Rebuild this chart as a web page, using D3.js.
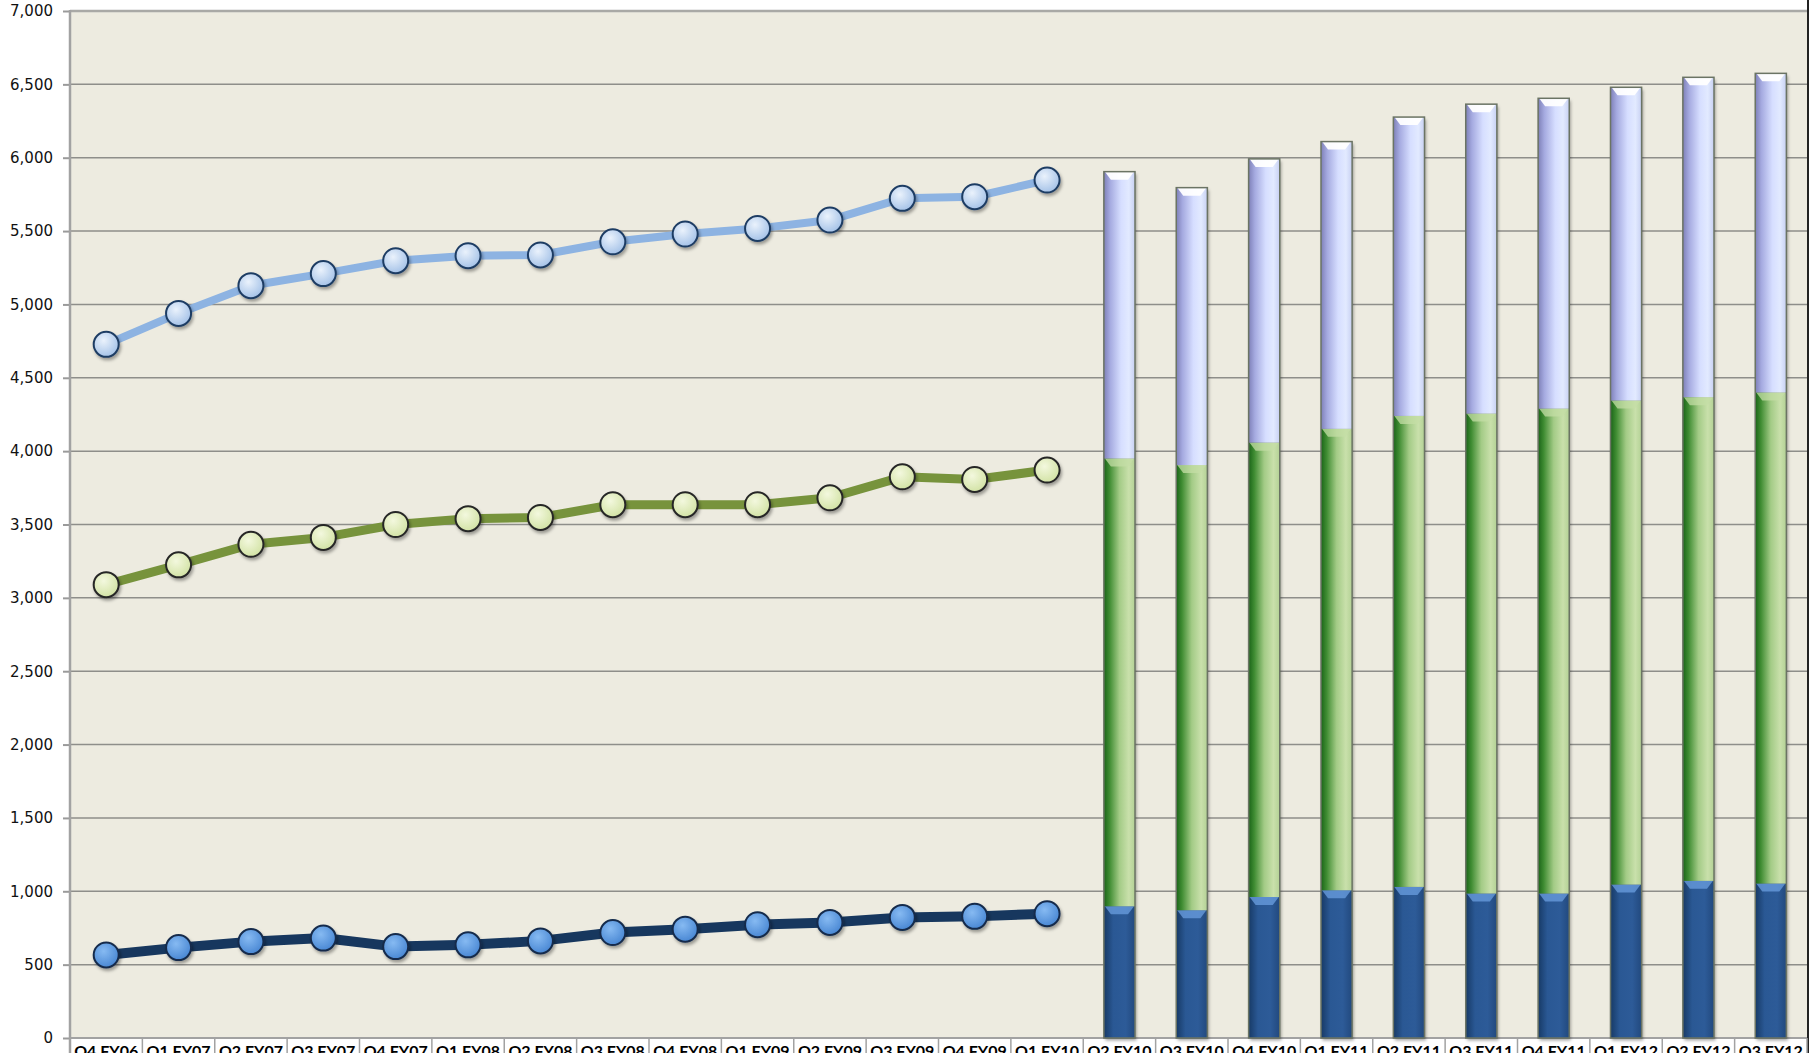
<!DOCTYPE html>
<html>
<head>
<meta charset="utf-8">
<script src="https://cdn.jsdelivr.net/npm/d3@7"></script>
<style>
  body { margin: 0; background: #fff; }
  svg { display: block; }
</style>
</head>
<body>
<svg id="chart"></svg>
<script>
// categories
const categories = [
  "Q4 FY06", "Q1 FY07", "Q2 FY07", "Q3 FY07", "Q4 FY07", "Q1 FY08", "Q2 FY08",
  "Q3 FY08", "Q4 FY08", "Q1 FY09", "Q2 FY09", "Q3 FY09", "Q4 FY09", "Q1 FY10",
  "Q2 FY10", "Q3 FY10", "Q4 FY10", "Q1 FY11", "Q2 FY11", "Q3 FY11", "Q4 FY11",
  "Q1 FY12", "Q2 FY12", "Q3 FY12"
];
const lineCats = categories.slice(0, 14);
const barCats = categories.slice(14);

// line series (Q4 FY06 .. Q1 FY10)
const lineTop = [4728, 4939, 5128, 5210, 5298, 5332, 5337, 5427, 5480, 5518, 5575, 5723, 5734, 5848];
const lineMid = [3090, 3225, 3365, 3412, 3500, 3540, 3548, 3635, 3635, 3635, 3682, 3825, 3807, 3871];
const lineBase = [566, 616, 657, 681, 623, 635, 662, 719, 742, 772, 788, 822, 829, 847];

// stacked bar segments (Q2 FY10 .. Q3 FY12)
const barBase = [898, 871, 961, 1007, 1030, 985, 985, 1046, 1071, 1053];
const barMid = [3052, 3034, 3097, 3145, 3210, 3271, 3305, 3299, 3297, 3347];
const barTop = [1955, 1891, 1934, 1958, 2037, 2109, 2115, 2135, 2180, 2175];

const yTicks = d3.range(0, 7001, 500);

// layout
const W = 1819, H = 1053;
const pL = 70, pR = 1807, pT = 11, pB = 1038;

const svg = d3.select("#chart").attr("width", W).attr("height", H);
const defs = svg.append("defs");

const x = d3.scaleBand().domain(categories).range([pL, pR]);
const y = d3.scaleLinear().domain([0, 7000]).range([pB, pT]);

// gradients
function hGrad(id, stops) {
  const g = defs.append("linearGradient").attr("id", id)
    .attr("x1", "0%").attr("x2", "100%").attr("y1", "0%").attr("y2", "0%");
  stops.forEach(([o, c]) => g.append("stop").attr("offset", o).attr("stop-color", c));
}
hGrad("gBlue", [["0%", "#173a66"], ["30%", "#2a5894"], ["70%", "#2d5b98"], ["100%", "#22497e"]]);
hGrad("gGreen", [["0%", "#1a6418"], ["18%", "#3f8c32"], ["50%", "#a3cb86"], ["80%", "#c9e0ab"], ["100%", "#b3d195"]]);
hGrad("gLav", [["0%", "#7e80b8"], ["20%", "#a5aae0"], ["55%", "#d6deff"], ["80%", "#e2eaff"], ["100%", "#c7d0f2"]]);

function rGrad(id, c0, c1) {
  const g = defs.append("radialGradient").attr("id", id)
    .attr("cx", "40%").attr("cy", "35%").attr("r", "65%");
  g.append("stop").attr("offset", "0%").attr("stop-color", c0);
  g.append("stop").attr("offset", "100%").attr("stop-color", c1);
}
rGrad("mTop", "#eaf2fc", "#a6c3e8");
rGrad("mMid", "#f3f8de", "#d3e3a6");
rGrad("mBase", "#86baf2", "#4a88d4");

const shadow = defs.append("filter").attr("id", "shadow")
  .attr("x", "-30%").attr("y", "-30%").attr("width", "160%").attr("height", "160%");
shadow.append("feDropShadow").attr("dx", 1.5).attr("dy", 2.5).attr("stdDeviation", 1.8)
  .attr("flood-color", "#000").attr("flood-opacity", 0.35);

// plot background
svg.append("rect")
  .attr("x", pL).attr("y", pT)
  .attr("width", pR - pL).attr("height", pB - pT)
  .attr("fill", "#edebe0");

// gridlines
svg.append("g").selectAll("line")
  .data(yTicks.filter(d => d > 0 && d < 7000))
  .join("line")
  .attr("x1", pL).attr("x2", pR)
  .attr("y1", d => y(d)).attr("y2", d => y(d))
  .attr("stroke", "#8e8e8a").attr("stroke-width", 1.5);

// top border of plot
svg.append("line")
  .attr("x1", pL).attr("x2", pR).attr("y1", y(7000)).attr("y2", y(7000))
  .attr("stroke", "#a9a9a6").attr("stroke-width", 2.5);

// right border
svg.append("line")
  .attr("x1", pR + 1).attr("x2", pR + 1).attr("y1", 0).attr("y2", H)
  .attr("stroke", "#222").attr("stroke-width", 2);

// y axis
const yAxis = d3.axisLeft(y).tickValues(yTicks).tickFormat(d3.format(",")).tickSize(7).tickPadding(10);
const ga = svg.append("g").attr("transform", `translate(${pL},0)`).call(yAxis);
ga.select(".domain").remove();
ga.selectAll(".tick line").attr("stroke", "#9a9a9a").attr("stroke-width", 2);
ga.selectAll(".tick text")
  .attr("font-family", "DejaVu Sans, Verdana, sans-serif")
  .attr("font-size", 15).attr("fill", "#111");
svg.append("line")
  .attr("x1", pL).attr("x2", pL).attr("y1", pT - 1).attr("y2", H)
  .attr("stroke", "#a2a2a2").attr("stroke-width", 2.5);

// category table under the axis
svg.append("line")
  .attr("x1", pL).attr("x2", pR).attr("y1", pB).attr("y2", pB)
  .attr("stroke", "#a2a2a2").attr("stroke-width", 2);
svg.append("g").selectAll("line")
  .data(categories)
  .join("line")
  .attr("x1", d => x(d) + x.bandwidth()).attr("x2", d => x(d) + x.bandwidth())
  .attr("y1", pB).attr("y2", H)
  .attr("stroke", "#a2a2a2").attr("stroke-width", 1.5);
svg.append("g").selectAll("text")
  .data(categories)
  .join("text")
  .attr("x", d => x(d) + x.bandwidth() / 2)
  .attr("y", 1057)
  .attr("text-anchor", "middle")
  .attr("font-family", "Lato, 'Open Sans', sans-serif")
  .attr("font-weight", "bold")
  .attr("font-size", 16)
  .attr("fill", "#000")
  .text(d => d);

// stacked bars
const barData = barCats.map((c, i) => ({ cat: c, base: barBase[i], mid: barMid[i], top: barTop[i] }));
const stack = d3.stack().keys(["base", "mid", "top"]);
const layers = stack(barData);
const fills = { base: "url(#gBlue)", mid: "url(#gGreen)", top: "url(#gLav)" };
const bevels = { base: "#6b9fe0", mid: "#c4dea6", top: "#ffffff" };
const bw = x.bandwidth() * 0.43;
const bx = d => x(d.data.cat) + (x.bandwidth() - bw) / 2;

const gBars = svg.append("g");
// shadow body behind the stack
gBars.selectAll("rect.sh")
  .data(layers[2])
  .join("rect")
  .attr("class", "sh")
  .attr("x", bx).attr("width", bw)
  .attr("y", d => y(d[1])).attr("height", d => y(0) - y(d[1]))
  .attr("fill", "#6f786a")
  .attr("filter", "url(#shadow)");

layers.forEach(layer => {
  const g = gBars.append("g");
  g.selectAll("rect")
    .data(layer)
    .join("rect")
    .attr("x", bx).attr("width", bw)
    .attr("y", d => y(d[1])).attr("height", d => y(d[0]) - y(d[1]))
    .attr("fill", fills[layer.key]);
  g.selectAll("polygon")
    .data(layer)
    .join("polygon")
    .attr("points", d => {
      const x0 = bx(d), yt = y(d[1]);
      return [[x0 + 1, yt], [x0 + bw - 1, yt], [x0 + bw - 7, yt + 8], [x0 + 7, yt + 8]].join(" ");
    })
    .attr("fill", bevels[layer.key])
    .attr("opacity", layer.key === "top" ? 0.95 : 0.75);
});
gBars.selectAll("rect.ol")
  .data(layers[2])
  .join("rect")
  .attr("class", "ol")
  .attr("x", bx).attr("width", bw)
  .attr("y", d => y(d[1])).attr("height", d => y(0) - y(d[1]))
  .attr("fill", "none")
  .attr("stroke", "#6b7464").attr("stroke-width", 1.5);

// lines with markers
const cx = c => x(c) + x.bandwidth() / 2;
const line = d3.line().x((d, i) => cx(lineCats[i])).y(d => y(d));
const series = [
  { vals: lineTop, color: "#8db3e2", width: 8, fill: "url(#mTop)", stroke: "#1f3c64" },
  { vals: lineMid, color: "#77933c", width: 9, fill: "url(#mMid)", stroke: "#262626" },
  { vals: lineBase, color: "#17375e", width: 10, fill: "url(#mBase)", stroke: "#142c4c" }
];
series.forEach(s => {
  svg.append("path")
    .datum(s.vals)
    .attr("d", line)
    .attr("fill", "none")
    .attr("stroke", s.color)
    .attr("stroke-width", s.width)
    .attr("stroke-linejoin", "round");
  svg.append("g").selectAll("circle")
    .data(s.vals)
    .join("circle")
    .attr("cx", (d, i) => cx(lineCats[i]))
    .attr("cy", d => y(d))
    .attr("r", 12.5)
    .attr("fill", s.fill)
    .attr("stroke", s.stroke)
    .attr("stroke-width", 2)
    .attr("filter", "url(#shadow)");
});
</script>
</body>
</html>
